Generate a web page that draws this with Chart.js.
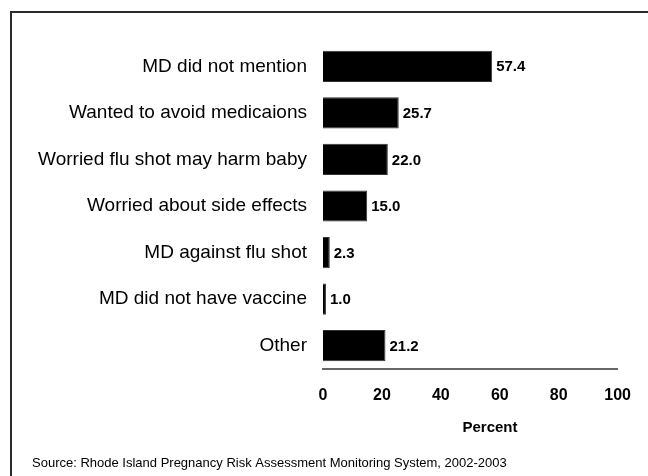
<!DOCTYPE html>
<html>
<head>
<meta charset="utf-8">
<script src="https://cdn.jsdelivr.net/npm/chart.js@4.4.1/dist/chart.umd.min.js"></script>
<style>
    html, body {
        margin: 0;
        padding: 0;
        background: white;
    }
    canvas {
        display: block;
    }
</style>
</head>
<body>
<canvas id="reasons-chart" width="648" height="476"></canvas>
<script>
// GLOBAL VARIABLES

const reasons = [
    "MD did not mention",
    "Wanted to avoid medicaions",
    "Worried flu shot may harm baby",
    "Worried about side effects",
    "MD against flu shot",
    "MD did not have vaccine",
    "Other",
];
const percentValues = [57.4, 25.7, 22.0, 15.0, 2.3, 1.0, 21.2];
const xTickValues = [0, 20, 40, 60, 80, 100];

const axisTitle = "Percent";
const sourceText = "Source: Rhode Island Pregnancy Risk Assessment Monitoring System, 2002-2003";

const FONT = "'Liberation Sans', Arial, sans-serif";


// PLUGINS

// frame lines, axis title and source note
const framePlugin = {
    id: "frame",
    beforeDraw(chart) {
        const ctx = chart.ctx;
        ctx.save();
        ctx.fillStyle = "white";
        ctx.fillRect(0, 0, chart.width, chart.height);

        ctx.strokeStyle = "#2a2a2a";
        ctx.lineWidth = 2;
        ctx.beginPath();
        ctx.moveTo(11, chart.height);
        ctx.lineTo(11, 12);
        ctx.lineTo(chart.width, 12);
        ctx.stroke();
        ctx.restore();
    },
    afterDraw(chart) {
        const ctx = chart.ctx;
        ctx.save();
        ctx.fillStyle = "black";
        ctx.textBaseline = "middle";

        ctx.font = `bold 15px ${FONT}`;
        ctx.textAlign = "center";
        ctx.fillText(axisTitle, 490, 428);

        ctx.font = `13px ${FONT}`;
        ctx.textAlign = "left";
        ctx.fillText(sourceText, 32, 463);
        ctx.restore();
    }
};

// value printed just right of every bar
const valueLabelPlugin = {
    id: "valueLabels",
    afterDatasetsDraw(chart) {
        const ctx = chart.ctx;
        const meta = chart.getDatasetMeta(0);
        ctx.save();
        ctx.font = `bold 15px ${FONT}`;
        ctx.fillStyle = "black";
        ctx.textAlign = "left";
        ctx.textBaseline = "middle";
        meta.data.forEach((bar, i) => {
            ctx.fillText(percentValues[i].toFixed(1), bar.x + 4, bar.y + 1);
        });
        ctx.restore();
    }
};


// CHART

new Chart(document.querySelector("#reasons-chart"), {
    type: "bar",
    plugins: [framePlugin, valueLabelPlugin],
    data: {
        labels: reasons,
        datasets: [{
            data: percentValues,
            backgroundColor: "black",
            borderColor: "#333",
            borderWidth: 1,
            categoryPercentage: 1,
            barPercentage: 0.67,
        }]
    },
    options: {
        indexAxis: "y",
        responsive: false,
        animation: false,
        events: [],
        layout: {
            padding: {
                top: 43,
                right: 29,
                left: 0,
                bottom: 0,
            },
        },
        scales: {
            x: {
                type: "linear",
                min: 0,
                max: 100,
                afterFit: scale => { scale.height = 107; },
                afterBuildTicks: scale => {
                    scale.ticks = xTickValues.map(v => ({ value: v }));
                },
                grid: {
                    display: false,
                    drawTicks: false,
                },
                border: {
                    display: true,
                    color: "#666",
                    width: 2,
                },
                ticks: {
                    padding: 17,
                    color: "black",
                    maxRotation: 0,
                    font: {
                        family: FONT,
                        size: 16,
                        weight: "bold",
                    },
                },
            },
            y: {
                afterFit: scale => { scale.width = 323; },
                grid: {
                    display: false,
                    drawTicks: false,
                },
                border: {
                    display: false,
                },
                ticks: {
                    padding: 16,
                    color: "black",
                    font: {
                        family: FONT,
                        size: 19,
                    },
                },
            },
        },
        plugins: {
            legend: {
                display: false,
            },
            tooltip: {
                enabled: false,
            },
        },
    },
});
</script>
</body>
</html>
